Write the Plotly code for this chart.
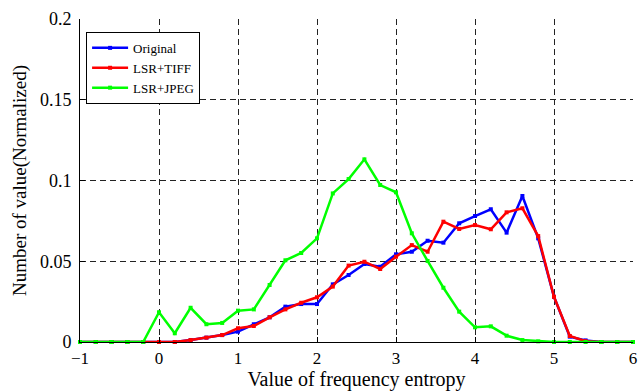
import plotly.graph_objects as go

# frequency-entropy bins, step 0.2 from -1 to 6
entropy = [round(-1 + 0.2 * i, 1) for i in range(36)]

original = [0, 0, 0, 0, 0, 0, 0, 0.0012, 0.0027, 0.0043, 0.0064, 0.011, 0.0153,
            0.0219, 0.0235, 0.0235, 0.0357, 0.0415, 0.0483, 0.0466, 0.0543, 0.0559,
            0.0627, 0.0615, 0.0735, 0.078, 0.0822, 0.0677, 0.0904, 0.0642, 0.028,
            0.0033, 0.001, 0, 0, 0]
lsr_tiff = [0, 0, 0, 0, 0, 0, 0, 0.0012, 0.0027, 0.0043, 0.0085, 0.0099, 0.0153,
            0.0202, 0.0243, 0.0277, 0.0343, 0.0473, 0.0497, 0.0452, 0.0528, 0.06,
            0.0559, 0.0745, 0.07, 0.0724, 0.0698, 0.0803, 0.0828, 0.0656, 0.028,
            0.0037, 0.0005, 0, 0, 0]
lsr_jpeg = [0, 0, 0, 0, 0, 0.0184, 0.0054, 0.0212, 0.011, 0.0118, 0.0194, 0.0202,
            0.0353, 0.0506, 0.0551, 0.0642, 0.092, 0.1009, 0.1131, 0.0972, 0.0927,
            0.0673, 0.0502, 0.0336, 0.0188, 0.0091, 0.0097, 0.0039, 0.0012, 0.0004,
            0, 0, 0, 0, 0, 0]

y_ticks = [0, 0.05, 0.1, 0.15, 0.2]
y_tick_text = ["0", "0.05", "0.1", "0.15", "0.2"]

series = [("Original", original, "#0000ff"),
          ("LSR+TIFF", lsr_tiff, "#ff0000"),
          ("LSR+JPEG", lsr_jpeg, "#00ff00")]

fig = go.Figure()
for name, vals, color in series:
    fig.add_trace(go.Scatter(
        x=entropy, y=vals, name=name, mode="lines+markers",
        line=dict(color=color, width=2.5),
        marker=dict(color=color, size=4, symbol="square"),
        cliponaxis=False,
    ))

serif = "Liberation Serif"

fig.update_layout(
    width=643, height=391,
    margin=dict(l=80, r=6, t=19, b=49),
    paper_bgcolor="white", plot_bgcolor="white",
    font=dict(family=serif, size=18, color="black"),
    legend=dict(x=0.011, y=0.96, xanchor="left", yanchor="top",
                bgcolor="white", bordercolor="black", borderwidth=1,
                font=dict(family=serif, size=13), itemwidth=36,
                tracegroupgap=0),
    showlegend=True,
)

for ax in (fig.layout.xaxis, fig.layout.yaxis):
    ax.update(showline=True, linecolor="black", linewidth=1,
              ticks="inside", ticklen=5, tickcolor="black",
              showgrid=True, gridcolor="#222222", gridwidth=1,
              griddash="6px,4px", zeroline=False, mirror=False)

fig.update_xaxes(range=[-1, 6], dtick=1, tick0=-1, ticklabelstandoff=1,
                 tickfont=dict(family=serif, size=17, color="black"),
                 title=dict(text="Value of frequency entropy",
                            font=dict(family=serif, size=20), standoff=1))
fig.update_yaxes(range=[0, 0.2], tickvals=y_ticks, ticktext=y_tick_text,
                 ticklabelstandoff=4,
                 tickfont=dict(family=serif, size=18, color="black"),
                 title=dict(text="Number of value(Normalized)",
                            font=dict(family=serif, size=19), standoff=8))

fig.write_html("out.html")
